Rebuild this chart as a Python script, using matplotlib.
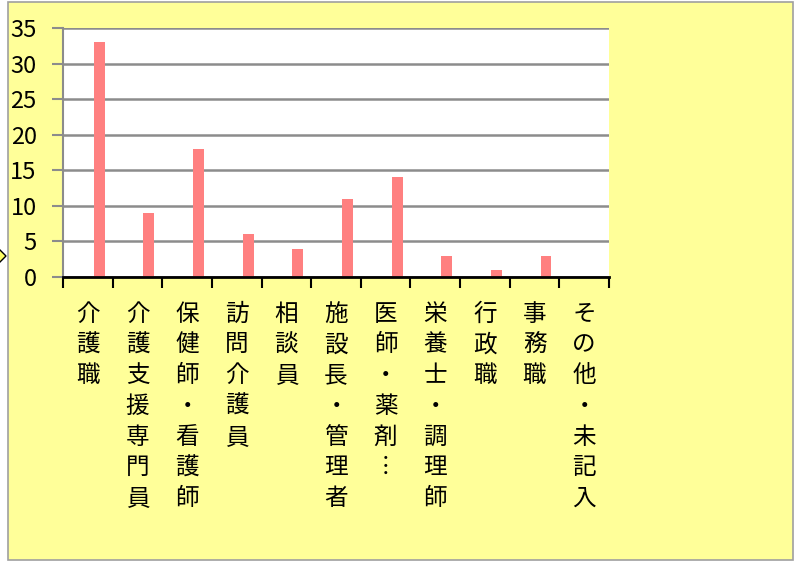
import matplotlib.pyplot as plt
from matplotlib.patches import Rectangle, Polygon
import numpy as np

plt.rcParams['font.family'] = ['Noto Sans CJK JP', 'DejaVu Sans']

# data
categories = ['介護職', '介護支援専門員', '保健師・看護師', '訪問介護員', '相談員',
              '施設長・管理者', '医師・薬剤︙', '栄養士・調理師', '行政職', '事務職', 'その他・未記入']
counts = [33, 9, 18, 6, 4, 11, 14, 3, 1, 3, 0]
yticks = [0, 5, 10, 15, 20, 25, 30, 35]

W, H = 795, 562
fig = plt.figure(figsize=(W / 100, H / 100), dpi=100)
fig.patch.set_facecolor('white')

# yellow chart area with border
fig.patches.append(Rectangle((8 / W, 1 - 560 / H), 785 / W, 558 / H, transform=fig.transFigure,
                             facecolor='#FFFF99', edgecolor='#A0A0A0', linewidth=1.2, zorder=-5))
# small diamond marker peeking in at the left edge
fig.patches.append(Polygon([(-4 / W, 1 - 246 / H), (6 / W, 1 - 256 / H), (-4 / W, 1 - 266 / H),
                            (-14 / W, 1 - 256 / H)], closed=True, transform=fig.transFigure,
                           facecolor='#FFFF66', edgecolor='black', linewidth=1.0, zorder=5))

ax = fig.add_axes([63 / W, 1 - 277 / H, (609 - 63) / W, (277 - 28) / H])
ax.set_facecolor('white')

# bars sit right of the category centre (Excel cluster slot)
x = np.arange(len(categories))
ax.bar(x + 0.23, counts, width=0.22, color='#FF8080', zorder=3)

ax.set_xlim(-0.5, len(categories) - 0.5)
ax.set_ylim(0, 35)
ax.set_yticks(yticks)
ax.yaxis.grid(True, color='#8C8C8C', linewidth=1.8, zorder=1)
ax.set_axisbelow(True)

for s in ['top', 'right']:
    ax.spines[s].set_visible(False)
ax.spines['left'].set_color('#8C8C8C')
ax.spines['left'].set_linewidth(1.5)
ax.spines['bottom'].set_color('black')
ax.spines['bottom'].set_linewidth(2)
ax.spines['bottom'].set_zorder(4)

ax.tick_params(axis='y', direction='out', length=8, width=1.5, color='#8C8C8C',
               labelsize=17, pad=11)
ax.set_xticks(np.arange(len(categories) + 1) - 0.5)
ax.set_xticklabels([])
ax.tick_params(axis='x', direction='out', length=8, width=1.5, color='black')

# vertical stacked category labels
for i, name in enumerate(categories):
    ax.text(i, -3.6, '\n'.join(name), ha='center', va='top', fontsize=17,
            linespacing=1.43, color='black', clip_on=False)

fig.savefig('out.png', dpi=100, facecolor=fig.get_facecolor())
